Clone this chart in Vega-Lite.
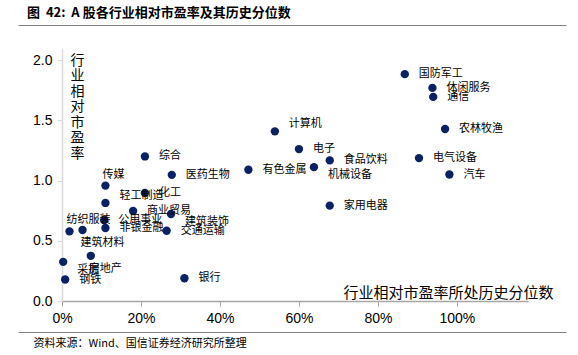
{
  "$schema": "https://vega.github.io/schema/vega-lite/v6.json",
  "width": 466,
  "height": 253,
  "autosize": "none",
  "padding": {"left": 62, "top": 48, "right": 50, "bottom": 54},
  "background": "white",
  "config": {
    "view": {"stroke": null},
    "font": "Noto Sans CJK SC"
  },
  "title": {
    "text": "图\u00a0\u00a042:\u00a0\u00a0A\u00a0股各行业相对市盈率及其历史分位数",
    "anchor": "start",
    "frame": "group",
    "dx": -35,
    "offset": 5,
    "font": "Noto Sans CJK SC",
    "fontSize": 13,
    "fontWeight": "bold",
    "color": "#000000"
  },
  "data": {
    "values": [
      {"name": "国防军工", "pct": 0.868, "pe": 1.883},
      {"name": "休闲服务", "pct": 0.938, "pe": 1.769},
      {"name": "通信", "pct": 0.940, "pe": 1.694},
      {"name": "农林牧渔", "pct": 0.970, "pe": 1.428},
      {"name": "计算机", "pct": 0.539, "pe": 1.408},
      {"name": "电子", "pct": 0.600, "pe": 1.261},
      {"name": "综合", "pct": 0.210, "pe": 1.200},
      {"name": "电气设备", "pct": 0.904, "pe": 1.186},
      {"name": "食品饮料", "pct": 0.678, "pe": 1.167},
      {"name": "机械设备", "pct": 0.638, "pe": 1.111},
      {"name": "有色金属", "pct": 0.472, "pe": 1.089},
      {"name": "汽车", "pct": 0.981, "pe": 1.050},
      {"name": "医药生物", "pct": 0.278, "pe": 1.047},
      {"name": "传媒", "pct": 0.110, "pe": 0.958},
      {"name": "化工", "pct": 0.210, "pe": 0.897},
      {"name": "轻工制造", "pct": 0.110, "pe": 0.814},
      {"name": "家用电器", "pct": 0.678, "pe": 0.792},
      {"name": "公用事业", "pct": 0.107, "pe": 0.672},
      {"name": "商业贸易", "pct": 0.180, "pe": 0.747},
      {"name": "建筑装饰", "pct": 0.276, "pe": 0.722},
      {"name": "非银金融", "pct": 0.110, "pe": 0.606},
      {"name": "交通运输", "pct": 0.265, "pe": 0.583},
      {"name": "纺织服装", "pct": 0.019, "pe": 0.578},
      {"name": "建筑材料", "pct": 0.052, "pe": 0.589},
      {"name": "房地产", "pct": 0.073, "pe": 0.375},
      {"name": "采掘", "pct": 0.003, "pe": 0.325},
      {"name": "钢铁", "pct": 0.008, "pe": 0.178},
      {"name": "银行", "pct": 0.310, "pe": 0.189}
    ]
  },
  "layer": [
    {
      "encoding": {
        "x": {
          "field": "pct", "type": "quantitative",
          "scale": {"domain": [0, 1.18], "nice": false, "zero": false},
          "axis": {
            "values": [0, 0.2, 0.4, 0.6, 0.8, 1.0],
            "format": ".0%",
            "grid": false,
            "labelFlush": false,
            "domainColor": "#a6a6a6",
            "domainWidth": 1.5,
            "tickColor": "#a6a6a6",
            "tickSize": 5,
            "labelFont": "Liberation Sans",
            "labelFontSize": 14,
            "labelColor": "#000000",
            "labelPadding": 5,
            "title": "行业相对市盈率所处历史分位数",
            "titleFont": "Noto Sans CJK SC",
            "titleFontSize": 15,
            "titleFontWeight": "normal",
            "titleColor": "#000000",
            "titleX": 491,
            "titleY": -9,
            "titleAlign": "right",
            "titleBaseline": "middle"
          }
        },
        "y": {
          "field": "pe", "type": "quantitative",
          "scale": {"domain": [0, 2.1], "nice": false},
          "axis": {
            "values": [0, 0.5, 1.0, 1.5, 2.0],
            "format": ".1f",
            "grid": false,
            "labelFlush": false,
            "domainColor": "#d9d9d9",
            "domainWidth": 1.5,
            "tickColor": "#d9d9d9",
            "tickSize": 5,
            "labelFont": "Liberation Sans",
            "labelFontSize": 14,
            "labelColor": "#000000",
            "labelPadding": 5,
            "title": ["行", "业", "相", "对", "市", "盈", "率"],
            "titleFont": "Noto Sans CJK SC",
            "titleFontSize": 14,
            "titleFontWeight": "normal",
            "titleColor": "#000000",
            "titleAngle": 0,
            "titleX": 15,
            "titleY": 5,
            "titleAlign": "center",
            "titleBaseline": "top",
            "titleLineHeight": 15.5
          }
        }
      },
      "layer": [
        {"mark": {"type": "circle", "size": 70, "color": "#0a2263", "opacity": 1}},
        {
          "transform": [{"filter": {"field": "name", "oneOf": ["国防军工", "休闲服务", "通信", "综合", "医药生物", "有色金属", "化工", "公用事业", "商业贸易", "非银金融", "交通运输", "食品饮料", "电子", "农林牧渔", "电气设备", "汽车", "家用电器", "钢铁", "银行"]}}],
          "mark": {"type": "text", "align": "left", "baseline": "middle", "dx": 14, "dy": 0, "fontSize": 11, "color": "#000000"},
          "encoding": {"text": {"field": "name"}}
        },
        {
          "transform": [{"filter": {"field": "name", "oneOf": ["计算机", "轻工制造"]}}],
          "mark": {"type": "text", "align": "left", "baseline": "middle", "dx": 14, "dy": -7, "fontSize": 11, "color": "#000000"},
          "encoding": {"text": {"field": "name"}}
        },
        {
          "transform": [{"filter": {"field": "name", "oneOf": ["机械设备", "建筑装饰", "采掘"]}}],
          "mark": {"type": "text", "align": "left", "baseline": "middle", "dx": 14, "dy": 8, "fontSize": 11, "color": "#000000"},
          "encoding": {"text": {"field": "name"}}
        },
        {
          "transform": [{"filter": {"field": "name", "oneOf": ["传媒", "纺织服装"]}}],
          "mark": {"type": "text", "align": "left", "baseline": "middle", "dx": -3, "dy": -11, "fontSize": 11, "color": "#000000"},
          "encoding": {"text": {"field": "name"}}
        },
        {
          "transform": [{"filter": {"field": "name", "oneOf": ["建筑材料", "房地产"]}}],
          "mark": {"type": "text", "align": "left", "baseline": "middle", "dx": -2, "dy": 13, "fontSize": 11, "color": "#000000"},
          "encoding": {"text": {"field": "name"}}
        }
      ]
    },
    {
      "mark": {"type": "point", "opacity": 0},
      "encoding": {
        "x": {
          "field": "pct", "type": "quantitative",
          "scale": {"domain": [0, 1.18], "range": [-44, 504]},
          "axis": {
            "orient": "top",
            "offset": 23,
            "labels": false,
            "ticks": false,
            "grid": false,
            "domainColor": "#808080",
            "domainWidth": 1.2,
            "title": null
          }
        }
      }
    },
    {
      "mark": {"type": "point", "opacity": 0},
      "encoding": {
        "x": {
          "field": "pct", "type": "quantitative",
          "scale": {"domain": [0, 1.18], "range": [-44, 504]},
          "axis": {
            "orient": "bottom",
            "offset": 31,
            "labels": false,
            "ticks": false,
            "grid": false,
            "domainColor": "#808080",
            "domainWidth": 1.2,
            "title": "资料来源：Wind、国信证券经济研究所整理",
            "titleFont": "Noto Sans CJK SC",
            "titleFontSize": 11,
            "titleFontWeight": "normal",
            "titleColor": "#000000",
            "titleX": -29,
            "titleY": 11,
            "titleAlign": "left",
            "titleBaseline": "middle"
          }
        }
      }
    }
  ],
  "resolve": {"scale": {"x": "independent"}, "axis": {"x": "independent"}}
}
